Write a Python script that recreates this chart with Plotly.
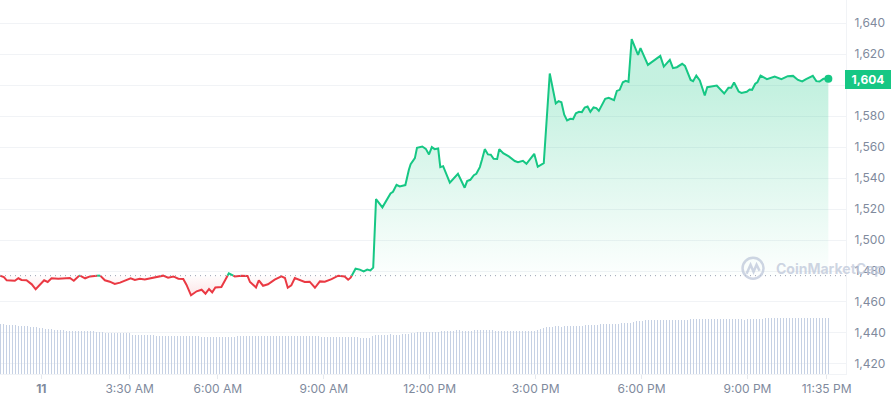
import numpy as np
import plotly.graph_objects as go

GREEN = "#16c784"
RED = "#ea3943"
GRID = "#f1f3f6"
TEXT = "#808a9d"

# hours of the day (as the axis spaces them) and price
hours = [-0.17, -0.06, 0.02, 0.16, 0.25, 0.35, 0.44, 0.58, 0.73, 0.84, 0.96, 1.08, 1.18, 1.29, 1.48, 1.67, 1.81, 1.92, 2.08, 2.24,
         2.38, 2.66, 2.80, 2.94, 3.08, 3.23, 3.37, 3.53, 3.65, 3.79, 3.93, 4.17, 4.45, 4.59, 4.74, 4.88, 5.02, 5.11, 5.24, 5.40,
         5.54, 5.65, 5.75, 5.84, 5.93, 6.10, 6.31, 6.48, 6.67, 6.84, 6.91, 7.08, 7.16, 7.28, 7.42, 7.61, 7.80, 7.90, 7.98, 8.08,
         8.18, 8.32, 8.46, 8.60, 8.75, 8.89, 9.03, 9.22, 9.41, 9.59, 9.69, 9.76, 9.90,
         10.02, 10.13, 10.23, 10.32, 10.40, 10.48, 10.66, 10.82, 10.89, 10.96, 11.06, 11.15, 11.31, 11.41, 11.46, 11.58, 11.64, 11.79, 11.89, 11.98,
         12.06, 12.14, 12.24, 12.30, 12.38, 12.57, 12.80, 12.99, 13.06, 13.15, 13.25, 13.32, 13.42, 13.48, 13.56, 13.65, 13.73, 13.81, 13.91, 13.97,
         14.08, 14.24, 14.41, 14.50, 14.64, 14.74, 14.96, 15.06, 15.23, 15.40, 15.57, 15.65, 15.73, 15.81, 15.89, 15.98, 16.06, 16.14, 16.23, 16.31,
         16.39, 16.47, 16.55, 16.64, 16.72, 16.79, 16.97, 17.07, 17.22, 17.30,
         17.38, 17.47, 17.55, 17.63, 17.72, 17.90, 17.97, 18.18, 18.53, 18.63, 18.80, 18.89, 19.00, 19.15, 19.23, 19.39, 19.46, 19.55, 19.65, 19.79,
         19.86, 20.13, 20.34, 20.46, 20.54, 20.62, 20.75, 20.83, 20.98, 21.06, 21.13, 21.22, 21.28, 21.37, 21.55, 21.77, 21.96, 22.14, 22.29, 22.43,
         22.55, 22.66, 22.85, 22.95, 23.04, 23.15, 23.29]
prices = [1477.0, 1476.1, 1474.0, 1474.0, 1473.7, 1475.3, 1474.2, 1474.0, 1471.4, 1468.2, 1470.9, 1474.0, 1472.9, 1475.3, 1475.0, 1475.3, 1475.5, 1473.7, 1477.2, 1475.3,
          1476.5, 1477.2, 1474.0, 1473.1, 1471.6, 1472.5, 1474.0, 1475.3, 1474.2, 1475.0, 1474.6, 1475.7, 1477.0, 1475.7, 1476.5, 1475.0, 1474.8, 1471.2, 1464.3, 1466.9,
          1467.9, 1465.4, 1468.4, 1466.2, 1469.4, 1469.7, 1478.5, 1476.5, 1477.0, 1476.8, 1472.9, 1469.4, 1474.0, 1470.5, 1471.4, 1474.4, 1476.5, 1475.5, 1469.2, 1470.7,
          1475.5, 1474.0, 1472.9, 1473.1, 1469.2, 1473.3, 1473.1, 1474.8, 1477.0, 1476.5, 1474.4, 1475.7, 1481.5,
          1480.9, 1479.8, 1480.9, 1480.4, 1482.2, 1526.4, 1521.1, 1527.5, 1530.1, 1531.2, 1535.7, 1534.6, 1535.5, 1545.4, 1549.0, 1552.9, 1559.6, 1560.4, 1558.9, 1555.3,
          1560.0, 1558.7, 1559.1, 1547.1, 1547.7, 1537.0, 1542.8, 1533.8, 1538.1, 1538.9, 1541.9, 1542.8, 1547.1, 1551.8, 1558.7, 1555.3, 1555.1, 1552.5, 1552.3, 1558.7,
          1556.1, 1554.0, 1551.0, 1550.3, 1551.2, 1549.2, 1555.7, 1547.3, 1549.7, 1607.5, 1588.2, 1589.7, 1589.0, 1580.9, 1577.2, 1578.3, 1578.1, 1581.9, 1582.8, 1582.6,
          1585.6, 1586.2, 1582.8, 1585.6, 1585.2, 1583.4, 1591.2, 1591.8, 1590.3, 1596.3,
          1597.0, 1601.9, 1602.8, 1602.1, 1629.7, 1619.6, 1623.9, 1613.1, 1618.9, 1612.0, 1616.3, 1611.0, 1611.6, 1613.8, 1612.5, 1603.4, 1602.6, 1606.2, 1603.0, 1593.3,
          1598.7, 1599.8, 1594.6, 1598.3, 1598.3, 1601.7, 1595.9, 1595.0, 1595.7, 1597.2, 1597.0, 1600.9, 1601.9, 1606.2, 1603.9, 1605.6, 1603.9, 1605.8, 1606.0, 1603.4,
          1602.4, 1603.9, 1606.0, 1602.6, 1602.4, 1604.1, 1604.1]

# volume bars come in flat runs: level (billions) and how many bars stay on it
volume_levels = [5.10, 5.03, 5.00, 4.93, 4.83, 4.73, 4.66, 4.60, 4.53, 4.43, 4.33, 4.26, 4.16, 4.13, 4.06, 3.93, 3.83, 3.73, 3.83,
                 3.83, 3.73, 3.63, 3.83, 3.93, 4.03, 3.93, 4.03, 4.13, 4.23, 4.33, 4.43, 4.33, 4.43, 4.33, 4.43, 4.53, 4.63, 4.73, 4.83,
                 4.73, 4.83, 4.93, 5.03, 5.13, 5.23, 5.33, 5.43, 5.53, 5.43, 5.53, 5.63]
volume_runs = [1, 1, 1, 4, 4, 2, 1, 2, 3, 4, 3, 7, 3, 4, 5, 8, 15, 12, 20,
               8, 13, 4, 1, 5, 1, 3, 3, 2, 8, 5, 2, 4, 7, 14, 1, 1, 1, 3, 2,
               1, 7, 5, 7, 4, 1, 3, 15, 18, 1, 6, 22]

price_ticks = [1420, 1440, 1460, 1480, 1500, 1520, 1540, 1560, 1580, 1600, 1620, 1640]
# 1,600 sits behind the price badge so it gets no text
price_labels = ["1,420", "1,440", "1,460", "1,480", "1,500", "1,520", "1,540", "1,560", "1,580", "", "1,620", "1,640"]
time_ticks = [1, 3.5, 6, 9, 12, 15, 18, 21, 23.24]
time_labels = ["<b>11</b>", "3:30 AM", "6:00 AM", "9:00 AM", "12:00 PM", "3:00 PM", "6:00 PM", "9:00 PM", "11:35 PM"]
BASELINE = 1477.0
LAST_LABEL = "1,604"
BAR_STEP = 0.085

X_RANGE = [-0.17, 23.79]
Y_RANGE = [1413.5, 1655.0]

# plot area in page pixels, the overlays are placed with these
PLOT_W = 846.5
PLOT_H = 374.3


def px(v):
    return v / PLOT_W


def py(v):
    return 1 - v / PLOT_H


# add the points where the line crosses the baseline so both colours meet there
xs, ys = [hours[0]], [prices[0]]
for i in range(1, len(hours)):
    a, b = prices[i - 1], prices[i]
    if (a - BASELINE) * (b - BASELINE) < 0:
        t = (BASELINE - a) / (b - a)
        xs.append(hours[i - 1] + t * (hours[i] - hours[i - 1]))
        ys.append(BASELINE)
    xs.append(hours[i])
    ys.append(prices[i])
ys = np.array(ys)

base = [BASELINE] * len(xs)
up_fill = np.maximum(ys, BASELINE)
down_fill = np.minimum(ys, BASELINE)
up_line = [v if v >= BASELINE else None for v in ys]
down_line = [v if v <= BASELINE else None for v in ys]

volumes = np.repeat(volume_levels, volume_runs)
bar_x = hours[-1] - BAR_STEP * np.arange(len(volumes))[::-1]

fig = go.Figure()

# alpha just under 1 keeps plotly from widening thin bars to 2px
fig.add_bar(x=bar_x, y=volumes, yaxis="y2", width=0.0285, marker=dict(color="rgba(197,208,228,0.99)", line_width=0))

no_line = dict(width=0, color="rgba(0,0,0,0)")
fig.add_scatter(x=xs, y=base, mode="lines", line=no_line)
fig.add_scatter(x=xs, y=up_fill, mode="lines", line=no_line, fill="tonexty",
                fillgradient=dict(type="vertical", start=BASELINE, stop=1596,
                                  colorscale=[[0, "rgba(22,199,132,0.01)"], [1, "rgba(22,199,132,0.25)"]]))
fig.add_scatter(x=xs, y=base, mode="lines", line=no_line)
fig.add_scatter(x=xs, y=down_fill, mode="lines", line=no_line, fill="tonexty",
                fillgradient=dict(type="vertical", start=BASELINE, stop=1463,
                                  colorscale=[[0, "rgba(234,57,67,0.01)"], [1, "rgba(234,57,67,0.14)"]]))

fig.add_scatter(x=xs, y=up_line, mode="lines", line=dict(color=GREEN, width=2), connectgaps=False)
fig.add_scatter(x=xs, y=down_line, mode="lines", line=dict(color=RED, width=2), connectgaps=False)
fig.add_scatter(x=[hours[-1]], y=[prices[-1]], mode="markers", marker=dict(color=GREEN, size=8))

fig.add_hline(y=BASELINE, line=dict(color="#9aa2b1", width=1, dash="1px,4px"), layer="above")

# watermark
wm = "rgba(190,199,217,0.75)"
fig.add_shape(type="circle", xref="paper", yref="paper", x0=px(743), x1=px(764), y0=py(279), y1=py(258),
              line=dict(color=wm, width=2.5), layer="above")
fig.add_shape(type="path", xref="paper", yref="paper", layer="above", line=dict(color=wm, width=2.5),
              path=f"M {px(747)} {py(274)} L {px(751)} {py(265)} L {px(754)} {py(272)} L {px(757)} {py(265)} L {px(760)} {py(271)}")
fig.add_annotation(text="<b>CoinMarketCap</b>", xref="paper", yref="paper", x=px(774), y=py(268.5), xanchor="left",
                   yanchor="middle", showarrow=False, font=dict(family="Inter", size=14, color=wm))

# current price badge
fig.add_annotation(text=f"<b>{LAST_LABEL}</b>", xref="paper", yref="paper", x=px(869), y=py(79.5), showarrow=False,
                   xanchor="center", yanchor="middle", width=46, height=19, bgcolor=GREEN, borderpad=0, borderwidth=0,
                   font=dict(family="Inter", size=12, color="white"))

fig.update_layout(
    width=892,
    height=400,
    autosize=False,
    margin=dict(l=0, r=45.5, t=0, b=25.7),
    plot_bgcolor="white",
    paper_bgcolor="white",
    showlegend=False,
    bargap=0,
    font=dict(family="Inter", size=12, color=TEXT),
    xaxis=dict(range=X_RANGE, tickvals=time_ticks, ticktext=time_labels, showgrid=False, zeroline=False,
               showline=True, linecolor=GRID, linewidth=1, ticks="outside", ticklen=4, tickcolor="#e6e9ee",
               tickfont=dict(family="Inter", size=12, color=TEXT)),
    yaxis=dict(range=Y_RANGE, side="right", tickvals=price_ticks, ticktext=price_labels, showgrid=True, gridcolor=GRID,
               gridwidth=1, zeroline=False, showline=True, linecolor=GRID, linewidth=1, ticks="", ticklabelstandoff=5,
               tickfont=dict(family="Inter", size=12, color=TEXT)),
    yaxis2=dict(range=[0, 37.43], overlaying="y", visible=False),
)

fig.write_html("out.html", config=dict(displayModeBar=False), post_script="document.body.style.margin='0';")
